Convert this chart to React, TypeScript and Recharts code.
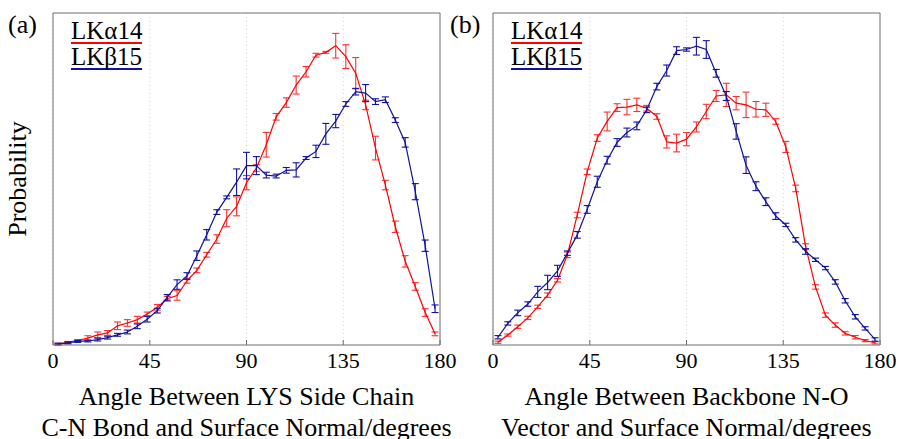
import { LineChart, Line, XAxis, YAxis, CartesianGrid, ErrorBar, Legend } from 'recharts'

// bin centres (degrees), 39 bins over 0-180
const angles = [
  2.3, 6.9, 11.5, 16.2, 20.8, 25.4, 30.0, 34.6, 39.2, 43.8, 48.5, 53.1, 57.7, 62.3, 66.9, 71.5, 76.2, 80.8, 85.4, 90.0,
  94.6, 99.2, 103.8, 108.5, 113.1, 117.7, 122.3, 126.9, 131.5, 136.2, 140.8, 145.4, 150.0, 154.6, 159.2, 163.8, 168.5, 173.1, 177.7,
]

// (a) side chain C-N bond
const alphaSideChain = [
  0.02, 0.05, 0.09, 0.14, 0.21, 0.25, 0.4, 0.46, 0.53, 0.65, 0.79, 0.97, 1.04, 1.35, 1.57, 1.9, 2.23, 2.67, 2.92, 3.42,
  3.73, 4.22, 4.81, 5.11, 5.48, 5.76, 6.11, 6.17, 6.31, 6.08, 5.73, 5.06, 4.15, 3.37, 2.49, 1.76, 1.23, 0.68, 0.23,
]
const alphaSideChainErr = [
  0.01, 0.02, 0.02, 0.05, 0.06, 0.05, 0.08, 0.07, 0.07, 0.04, 0.06, 0.05, 0.1, 0.05, 0.05, 0.05, 0.09, 0.18, 0.2, 0.15,
  0.07, 0.26, 0.07, 0.1, 0.19, 0.11, 0.04, 0.02, 0.26, 0.25, 0.33, 0.1, 0.25, 0.1, 0.12, 0.12, 0.08, 0.08, 0.04,
]
const betaSideChain = [
  0.015, 0.04, 0.07, 0.08, 0.11, 0.15, 0.21, 0.27, 0.39, 0.54, 0.72, 1.0, 1.27, 1.45, 1.88, 2.32, 2.8, 3.11, 3.43, 3.78,
  3.78, 3.58, 3.56, 3.68, 3.69, 3.94, 4.08, 4.45, 4.72, 5.08, 5.34, 5.31, 5.13, 5.17, 4.74, 4.27, 3.23, 2.09, 0.76,
]
const betaSideChainErr = [
  0.02, 0.02, 0.02, 0.02, 0.03, 0.03, 0.03, 0.04, 0.05, 0.06, 0.05, 0.06, 0.1, 0.07, 0.1, 0.11, 0.05, 0.03, 0.28, 0.28,
  0.19, 0.06, 0.04, 0.06, 0.15, 0.03, 0.13, 0.22, 0.14, 0.05, 0.07, 0.18, 0.06, 0.06, 0.05, 0.1, 0.17, 0.12, 0.08,
]

// (b) backbone N-O vector
const alphaBackbone = [
  0.05, 0.18, 0.33, 0.49, 0.69, 0.9, 1.17, 1.63, 2.35, 3.13, 3.74, 4.04, 4.29, 4.3, 4.34, 4.28, 4.13, 3.67, 3.65, 3.72,
  3.94, 4.22, 4.5, 4.52, 4.37, 4.34, 4.26, 4.25, 4.04, 3.58, 2.83, 1.78, 1.05, 0.54, 0.36, 0.21, 0.14, 0.08, 0.04,
]
const alphaBackboneErr = [
  0.02, 0.02, 0.03, 0.03, 0.03, 0.04, 0.03, 0.05, 0.05, 0.05, 0.06, 0.17, 0.07, 0.14, 0.12, 0.05, 0.05, 0.11, 0.16, 0.12,
  0.09, 0.13, 0.1, 0.21, 0.12, 0.23, 0.14, 0.12, 0.05, 0.1, 0.06, 0.05, 0.04, 0.04, 0.04, 0.03, 0.03, 0.02, 0.02,
]
const betaBackbone = [
  0.14, 0.39, 0.58, 0.74, 0.96, 1.13, 1.34, 1.66, 1.99, 2.45, 2.95, 3.34, 3.66, 3.84, 3.96, 4.25, 4.67, 4.96, 5.32, 5.34,
  5.4, 5.34, 4.91, 4.5, 3.86, 3.25, 2.87, 2.59, 2.33, 2.17, 1.9, 1.69, 1.54, 1.39, 1.14, 0.8, 0.51, 0.3, 0.1,
]
const betaBackboneErr = [
  0.03, 0.03, 0.05, 0.04, 0.1, 0.13, 0.1, 0.04, 0.06, 0.07, 0.1, 0.07, 0.07, 0.08, 0.07, 0.05, 0.06, 0.1, 0.07, 0.03,
  0.16, 0.16, 0.07, 0.08, 0.14, 0.15, 0.08, 0.07, 0.06, 0.03, 0.04, 0.05, 0.03, 0.03, 0.04, 0.04, 0.04, 0.03, 0.03,
]

const xTicks = [0, 45, 90, 135, 180]
const yTicksA = [0, 1, 2, 3, 4, 5, 6, 7]
const yTicksB = [0, 1, 2, 3, 4, 5, 6]

const RED = '#ff0000'
const BLUE = '#12129c'
const FRAME = '#6e6e6e'
const SERIF = 'Liberation Serif, DejaVu Serif, serif'

const rowsA = angles.map((angle, i) => ({
  angle,
  red: alphaSideChain[i],
  redErr: alphaSideChainErr[i],
  blue: betaSideChain[i],
  blueErr: betaSideChainErr[i],
}))

const rowsB = angles.map((angle, i) => ({
  angle,
  red: alphaBackbone[i],
  redErr: alphaBackboneErr[i],
  blue: betaBackbone[i],
  blueErr: betaBackboneErr[i],
}))

function LegendBox({ payload }: any) {
  return (
    <div style={{ fontSize: 25, lineHeight: '22px', color: '#000', fontFamily: SERIF }}>
      {(payload || []).map((p: any) => (
        <div key={p.value} style={{ width: 'fit-content', borderBottom: `2px solid ${p.color}`, marginBottom: 2 }}>
          {p.value}
        </div>
      ))}
    </div>
  )
}

interface PanelProps {
  rows: any[]
  yMax: number
  yTicks: number[]
  xLabel: [string, string]
  yLabel?: string
}

// plot area: 53px in from the chart's left, 387px wide
function Panel({ rows, yMax, yTicks, xLabel, yLabel }: PanelProps) {
  return (
    <LineChart width={470} height={439} data={rows} margin={{ top: 12, right: 29, bottom: 0, left: 0 }}>
      <CartesianGrid vertical horizontal={false} stroke="#cfcfcf" strokeDasharray="1 3" />
      <XAxis
        dataKey="angle"
        type="number"
        domain={[0, 180]}
        ticks={xTicks}
        height={94}
        tickSize={-5}
        tickMargin={12}
        stroke={FRAME}
        tick={{ fill: '#000', fontSize: 22, fontFamily: SERIF }}
        label={{
          content: (p: any) => {
            const vb = p.viewBox
            const cx = vb.x + vb.width / 2
            return (
              <text x={cx} y={vb.y + 60} textAnchor="middle" fontSize={26} fill="#000" fontFamily={SERIF}>
                <tspan x={cx}>{xLabel[0]}</tspan>
                <tspan x={cx} dy={31}>{xLabel[1]}</tspan>
              </text>
            )
          },
        }}
      />
      <XAxis xAxisId="top" orientation="top" dataKey="angle" type="number" domain={[0, 180]} ticks={xTicks} height={1} tickSize={-5} tick={false} stroke={FRAME} />
      <YAxis
        domain={[0, yMax]}
        ticks={yTicks}
        width={53}
        tickSize={-5}
        tick={false}
        stroke={FRAME}
        label={
          yLabel
            ? {
                content: () => (
                  <text x={26} y={179} transform="rotate(-90, 26, 179)" textAnchor="middle" fontSize={26} fill="#000" fontFamily={SERIF}>
                    {yLabel}
                  </text>
                ),
              }
            : undefined
        }
      />
      <YAxis yAxisId="right" orientation="right" domain={[0, yMax]} ticks={yTicks} width={1} tickSize={-5} tick={false} stroke={FRAME} />
      <Legend
        layout="vertical"
        align="center"
        verticalAlign="middle"
        wrapperStyle={{ left: 71, top: 20, width: 'auto', height: 'auto' }}
        content={LegendBox}
      />
      <Line dataKey="red" name="LKα14" stroke={RED} strokeWidth={1.2} dot={false} isAnimationActive={false}>
        <ErrorBar dataKey="redErr" width={3.5} stroke="#ff3030" strokeWidth={1.1} isAnimationActive={false} />
      </Line>
      <Line dataKey="blue" name="LKβ15" stroke={BLUE} strokeWidth={1.2} dot={false} isAnimationActive={false}>
        <ErrorBar dataKey="blueErr" width={3.5} stroke={BLUE} strokeWidth={1.1} isAnimationActive={false} />
      </Line>
    </LineChart>
  )
}

export default function App() {
  return (
    <div
      style={{
        position: 'fixed',
        left: 0,
        top: 0,
        width: 899,
        height: 439,
        background: '#fff',
        overflow: 'hidden',
        fontFamily: SERIF,
      }}
    >
      <div style={{ position: 'absolute', left: 0, top: 0 }}>
        <Panel
          rows={rowsA}
          yMax={7}
          yTicks={yTicksA}
          yLabel="Probability"
          xLabel={['Angle Between LYS Side Chain', 'C-N Bond and Surface Normal/degrees']}
        />
      </div>
      <div style={{ position: 'absolute', left: 440, top: 0 }}>
        <Panel
          rows={rowsB}
          yMax={6}
          yTicks={yTicksB}
          xLabel={['Angle Between Backbone N-O', 'Vector and Surface Normal/degrees']}
        />
      </div>
      <div style={{ position: 'absolute', left: 8, top: 12, fontSize: 26, lineHeight: 1 }}>(a)</div>
      <div style={{ position: 'absolute', left: 450, top: 12, fontSize: 26, lineHeight: 1 }}>(b)</div>
    </div>
  )
}
